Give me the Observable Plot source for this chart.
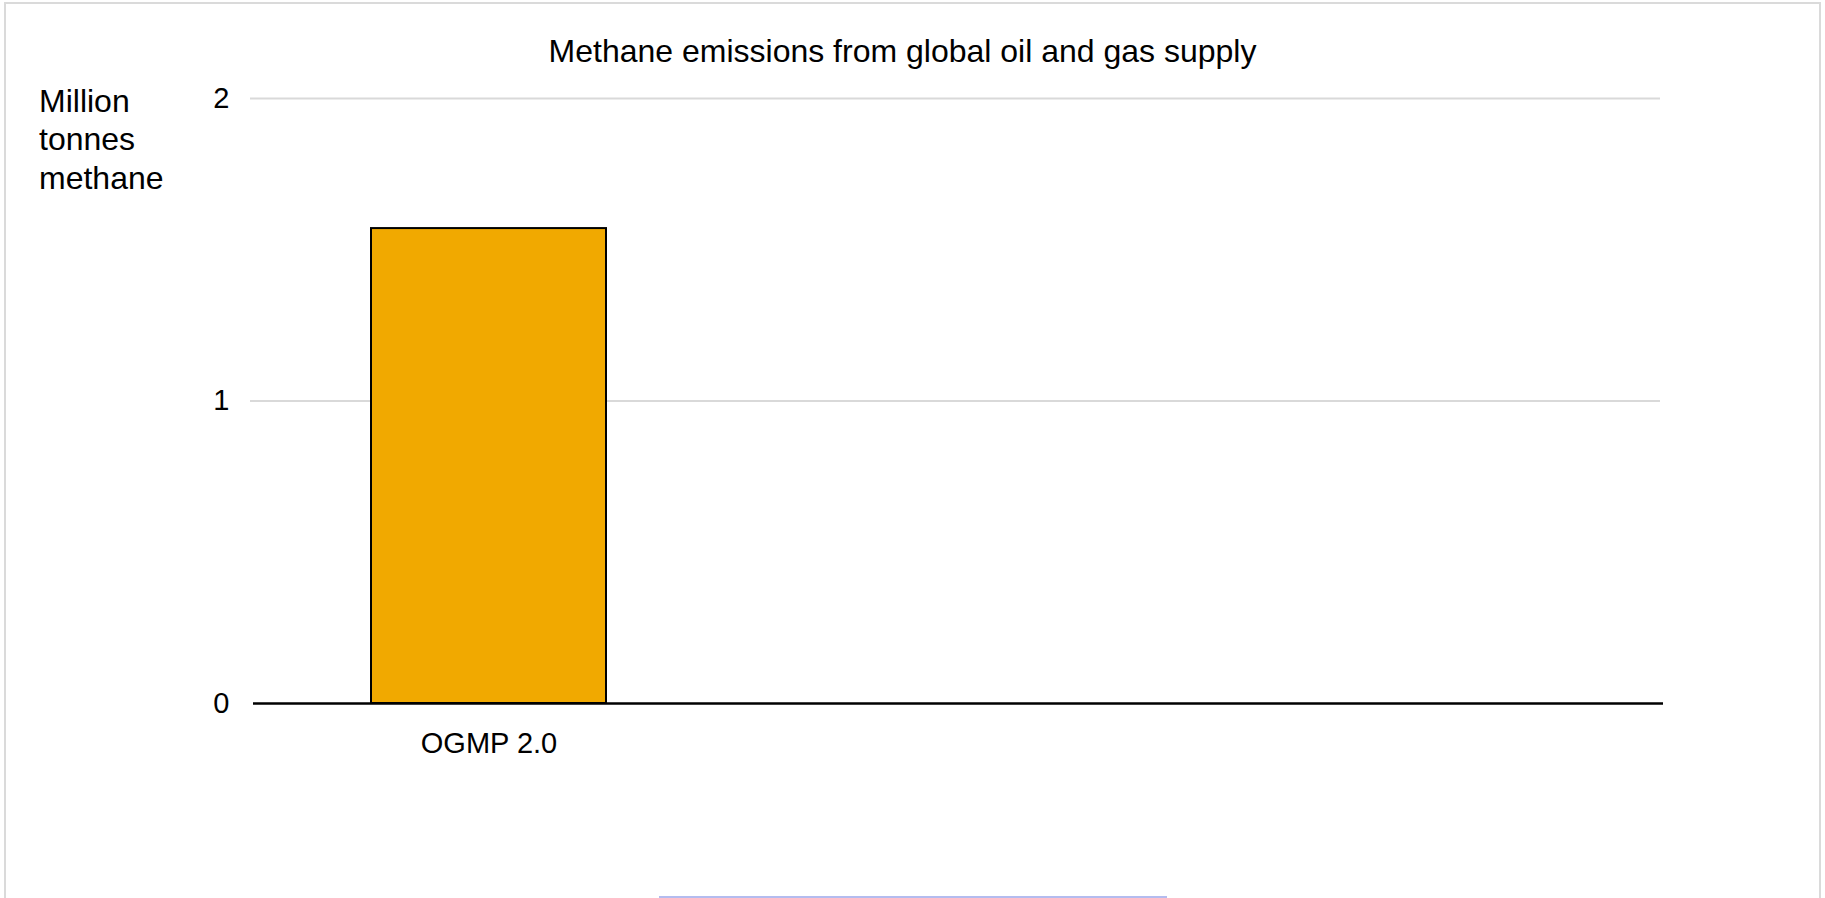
<!DOCTYPE html>
<html>
<head>
<meta charset="utf-8">
<script src="https://cdn.jsdelivr.net/npm/d3@7"></script>
<script src="https://cdn.jsdelivr.net/npm/@observablehq/plot@0.6"></script>
<style>
  body { margin: 0; background: #fff; font-family: "Liberation Sans", Arial, sans-serif; color: #000; }
  #wrap { position: relative; width: 1825px; height: 898px; overflow: hidden; }
  #frame { position: absolute; left: 4px; top: 2px; width: 1817px; height: 920px; border: 2px solid #dadada; box-sizing: border-box; }
  #chart { position: absolute; left: 0; top: 0; }
  #title { position: absolute; left: 0; width: 1805px; top: 35px; text-align: center; font-size: 32px; line-height: 32px; white-space: nowrap; }
  #ylabel { position: absolute; left: 39px; top: 82px; font-size: 32px; line-height: 38.3px; }
  #scrollbar { position: absolute; left: 659px; top: 896px; width: 508px; height: 2px; background: #b4bcef; }
</style>
</head>
<body>
<div id="wrap">
  <div id="frame"></div>
  <div id="chart"></div>
  <div id="title"></div>
  <div id="ylabel"></div>
  <div id="scrollbar"></div>
</div>
<script>
// Chart text
const title = "Methane emissions from global oil and gas supply";
const yLabelLines = ["Million", "tonnes", "methane"];

// Categories along the x axis (only the first one has a reported value)
const categories = ["OGMP 2.0", "", ""];
// Million tonnes of methane per category
const values = [1.57, null, null];
// Y axis ticks
const yTicks = [0, 1, 2];

const data = categories.map((label, i) => ({ i, label, value: values[i] }));

document.getElementById("title").textContent = title;
document.getElementById("ylabel").innerHTML = yLabelLines.join("<br>");

const chart = Plot.plot({
  width: 1825,
  height: 898,
  marginLeft: 253,
  marginRight: 162,
  marginTop: 98,
  marginBottom: 195,
  style: { fontFamily: "'Liberation Sans', Arial, sans-serif", fontSize: "29px", color: "#000", background: "transparent" },
  x: { domain: d3.range(categories.length), paddingInner: 0.5, paddingOuter: 0.25, axis: null },
  y: { domain: [0, 2], axis: null },
  marks: [
    Plot.ruleY(yTicks.filter(d => d > 0), { stroke: "#d9d9d9", strokeWidth: 2, insetLeft: -3, insetRight: 3 }),
    Plot.barY(data, { x: "i", y: "value", fill: "#f1a900", stroke: "#000", strokeWidth: 2 }),
    Plot.ruleY([0], { stroke: "#000", strokeWidth: 2.5 }),
    Plot.axisY(yTicks, { tickSize: 0, tickPadding: 24, tickFormat: d => String(d), fill: "#000", label: null }),
    Plot.axisX(d3.range(categories.length), { tickSize: 0, tickPadding: 29, tickFormat: i => categories[i], fill: "#000", label: null })
  ]
});
document.getElementById("chart").appendChild(chart);
</script>
</body>
</html>
